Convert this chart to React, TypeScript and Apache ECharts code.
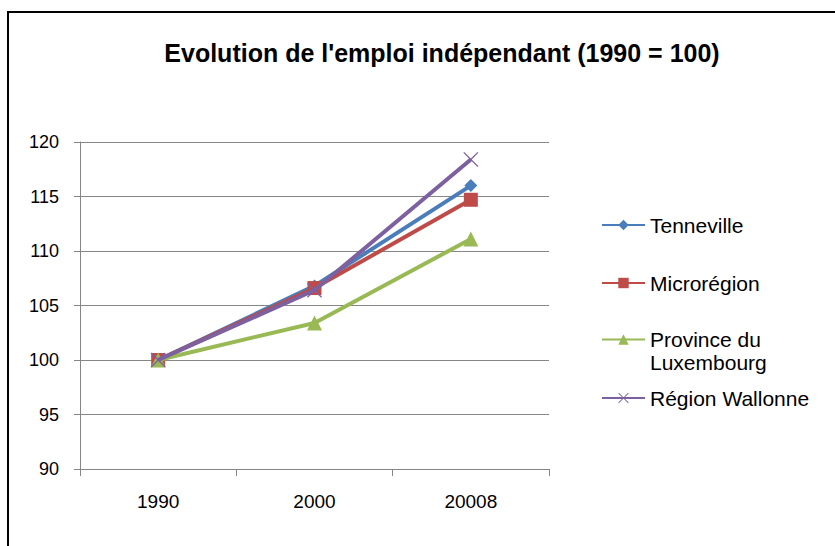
import React, { useEffect, useRef } from "react";
import * as echarts from "echarts";

const categories = ["1990", "2000", "20008"];
const tenneville = [100, 106.8, 116.0];
const microregion = [100, 106.6, 114.7];
const province = [100, 103.4, 111.1];
const wallonne = [100, 106.4, 118.4];
const seriesNames = ["Tenneville", "Microrégion", "Province du Luxembourg", "Région Wallonne"];
const yTicks = { min: 90, max: 120, interval: 5 };

const X_PATH = "path://M0,1.2 L1.2,0 L10,8.8 L18.8,0 L20,1.2 L11.2,10 L20,18.8 L18.8,20 L10,11.2 L1.2,20 L0,18.8 L8.8,10 Z";

export default function App() {
  const ref = useRef<HTMLDivElement>(null);
  useEffect(() => {
    const chart = echarts.init(ref.current!, null, { renderer: "svg" });
    const font = "'Liberation Sans', Arial, sans-serif";
    const colors = ["#4a7ebb", "#be4b48", "#98b954", "#7d60a0"];
    const mkLegend = (name: string, top: number, formatter?: () => string) => ({
      data: [name],
      orient: "vertical",
      left: 601,
      top,
      itemWidth: 43,
      itemHeight: 13,
      itemGap: 0,
      padding: 0,
      selectedMode: false,
      textStyle: { fontFamily: font, fontSize: 21, lineHeight: 23, color: "#000" },
      ...(formatter ? { formatter } : {}),
    });
    chart.setOption({
      animation: false,
      color: colors,
      title: {
        text: "Evolution de l'emploi indépendant (1990 = 100)",
        left: 437,
        textAlign: "center",
        top: 35,
        textStyle: { fontFamily: font, fontSize: 25, fontWeight: "bold", color: "#000" },
      },
      legend: [
        mkLegend(seriesNames[0], 213.5),
        mkLegend(seriesNames[1], 271.5),
        mkLegend(seriesNames[2], 305, () => " \nProvince du\nLuxembourg"),
        mkLegend(seriesNames[3], 386.5),
      ],
      grid: { left: 80, right: 286, top: 142, bottom: 77, containLabel: false },
      xAxis: {
        type: "category",
        data: categories,
        boundaryGap: true,
        axisLine: { show: true, lineStyle: { color: "#868686", width: 1 } },
        axisTick: { show: true, length: 7, lineStyle: { color: "#868686" } },
        axisLabel: { fontFamily: font, fontSize: 19, color: "#000", margin: 23 },
        splitLine: { show: false },
      },
      yAxis: {
        type: "value",
        min: yTicks.min,
        max: yTicks.max,
        interval: yTicks.interval,
        axisLine: { show: true, lineStyle: { color: "#868686", width: 1 } },
        axisTick: { show: true, length: 6, lineStyle: { color: "#868686" } },
        axisLabel: { fontFamily: font, fontSize: 18, color: "#000", margin: 21 },
        splitLine: { show: true, lineStyle: { color: "#868686", width: 1 } },
      },
      series: [
        { name: seriesNames[0], type: "line", data: tenneville, symbol: "diamond", symbolSize: 13, lineStyle: { width: 4 }, z: 2 },
        { name: seriesNames[1], type: "line", data: microregion, symbol: "rect", symbolSize: 14, lineStyle: { width: 4 }, z: 3 },
        { name: seriesNames[2], type: "line", data: province, symbol: "triangle", symbolSize: 15, lineStyle: { width: 4 }, z: 4 },
        { name: seriesNames[3], type: "line", data: wallonne, symbol: X_PATH, symbolSize: 15, lineStyle: { width: 4 }, z: 5 },
      ],
      graphic: [
        { type: "line", shape: { x1: 7, y1: 12, x2: 835, y2: 12 }, style: { stroke: "#000", lineWidth: 2 } },
        { type: "line", shape: { x1: 8, y1: 11, x2: 8, y2: 546 }, style: { stroke: "#000", lineWidth: 2 } },
      ],
    });
    return () => chart.dispose();
  }, []);
  return <div ref={ref} style={{ width: 835, height: 546, position: "absolute", left: 0, top: 0, background: "#fff" }} />;
}
